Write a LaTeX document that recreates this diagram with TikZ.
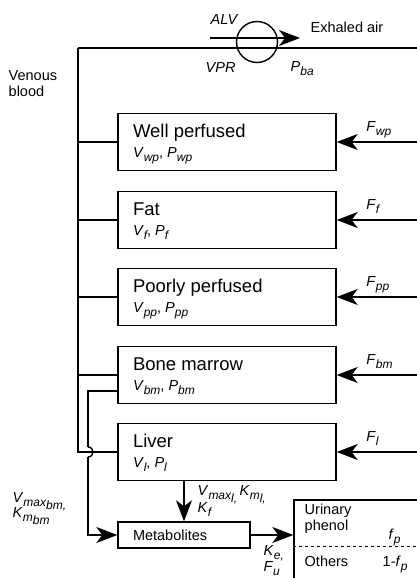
\documentclass[tikz,border=0pt]{standalone}
\usepackage{fontspec}
\setmainfont{Liberation Sans}
\usetikzlibrary{arrows.meta, positioning}
\newcommand{\sbs}[1]{\raisebox{-0.55ex}{\fontsize{12}{13}\selectfont\itshape #1}}

\begin{document}
\begin{tikzpicture}[x=1pt, y=-1pt, line width=1.4pt,
    organ/.style={draw, minimum width=218pt, minimum height=57.5pt, inner sep=0pt},
    title/.style={anchor=base west, inner sep=0pt, font=\fontsize{18.5}{22}\selectfont},
    lbl/.style={anchor=base west, inner sep=0pt, font=\fontsize{14.5}{16}\selectfont},
    flow/.style={-{Stealth[length=21pt, width=16pt, inset=6pt]}}]
    \clip (0,0) rectangle (417,578);

    % Lungs
    \node[draw, circle, minimum size=41pt, inner sep=0pt] (lung) at (257,42) {};
    \coordinate (vtop) at (78,48);
    \coordinate (atop) at (425,48);
    \coordinate (alvin) at (210,38);
    \draw (vtop) -- (atop);
    \node[lbl] (alv) at (210,25) {\textit{ALV}};
    \node[lbl] (vpr) at (205,72) {\textit{VPR}};
    \node[lbl] (pba) at (290,71) {\textit{P}\sbs{ba}};
    \node[lbl, anchor=west] (exhaled) at (310,27) {Exhaled air};
    \draw[flow, shorten >=10pt] (alvin) -- (exhaled.west |- alvin);
    \node[lbl, align=left, anchor=base west] (venous) at (8,96) {Venous\\blood};

    % Compartments
    \node[organ] (wp) at (227,142) {};
    \node[organ] (fat) at (227,220) {};
    \node[organ] (pp) at (227,297) {};
    \node[organ] (bm) at (227,375) {};
    \node[organ] (liver) at (227,452) {};

    \node[title] (wpname) at ([shift={(15,25)}]wp.north west) {Well perfused};
    \node[lbl] (wpvar) at ([shift={(15,45)}]wp.north west) {\textit{V}\sbs{wp}, \textit{P}\sbs{wp}};
    \node[title] (fatname) at ([shift={(15,25)}]fat.north west) {Fat};
    \node[lbl] (fatvar) at ([shift={(15,45)}]fat.north west) {\textit{V}\sbs{f}, \textit{P}\sbs{f}};
    \node[title] (ppname) at ([shift={(15,25)}]pp.north west) {Poorly perfused};
    \node[lbl] (ppvar) at ([shift={(15,45)}]pp.north west) {\textit{V}\sbs{pp}, \textit{P}\sbs{pp}};
    \node[title] (bmname) at ([shift={(15,25)}]bm.north west) {Bone marrow};
    \node[lbl] (bmvar) at ([shift={(15,45)}]bm.north west) {\textit{V}\sbs{bm}, \textit{P}\sbs{bm}};
    \node[title] (livername) at ([shift={(15,25)}]liver.north west) {Liver};
    \node[lbl] (livervar) at ([shift={(15,45)}]liver.north west) {\textit{V}\sbs{l}, \textit{P}\sbs{l}};

    % Venous return
    \coordinate (vliver) at (vtop |- liver.west);
    \draw (vtop) -- (vliver) -- (liver.west);
    \draw (vtop |- wp.west) -- (wp.west);
    \draw (vtop |- fat.west) -- (fat.west);
    \draw (vtop |- pp.west) -- (pp.west);
    \draw (vtop |- bm.west) -- (bm.west);

    % Arterial inflow
    \draw[flow] (wp.east -| atop) -- (wp.east);
    \draw[flow] (fat.east -| atop) -- (fat.east);
    \draw[flow] (pp.east -| atop) -- (pp.east);
    \draw[flow] (bm.east -| atop) -- (bm.east);
    \draw[flow] (liver.east -| atop) -- (liver.east);
    \node[lbl] (fwp) at ([shift={(29,-11)}]wp.east) {\textit{F}\sbs{wp}};
    \node[lbl] (ff) at ([shift={(29,-11)}]fat.east) {\textit{F}\sbs{f}};
    \node[lbl] (fpp) at ([shift={(29,-11)}]pp.east) {\textit{F}\sbs{pp}};
    \node[lbl] (fbm) at ([shift={(29,-11)}]bm.east) {\textit{F}\sbs{bm}};
    \node[lbl] (fl) at ([shift={(29,-11)}]liver.east) {\textit{F}\sbs{l}};

    % Metabolism
    \node[draw, minimum width=132pt, minimum height=26pt, inner sep=0pt] (met) at (184,535) {};
    \node[lbl, anchor=west] (metname) at ([xshift=15pt]met.west) {Metabolites};
    \draw[flow] (liver.south -| met.north) -- (met.north);
    \node[lbl] (livkin) at (197,495) {\textit{V}\sbs{max\sbs{l,}}\textit{\,K}\sbs{m\sbs{l,}}};
    \node[lbl] (livkf) at (197,512) {\textit{K}\sbs{f}};

    \coordinate (bmout) at ([yshift=-16pt]bm.west);
    \coordinate (hop) at (88,452);
    \draw (bmout) -- (bmout -| hop) -- ([yshift=5pt]hop);
    \draw ([yshift=5pt]hop)
        .. controls ([shift={(6.7,-5)}]hop) and ([shift={(6.7,5)}]hop) .. ([yshift=-5pt]hop);
    \draw[flow] ([yshift=-5pt]hop) -- (hop |- met.west) -- (met.west);
    \node[lbl] (bmkin) at (12,502) {\textit{V}\sbs{max\sbs{bm,}}};
    \node[lbl] (bmkm) at (12,517) {\textit{K}\sbs{m\sbs{bm}}};

    % Excretion
    \node[draw, minimum width=146pt, minimum height=100pt, inner sep=0pt] (urine) at (367,550) {};
    \coordinate (split) at (300,546);
    \draw[dashed, line width=0.9pt] (urine.west |- split) -- (urine.east |- split);
    \draw[flow] (met.east) -- (urine.west |- met.east);
    \node[lbl] (ke) at (263,555) {\textit{K}\sbs{e,}};
    \node[lbl] (fu) at (263,571) {\textit{F}\sbs{u}};
    \node[lbl, align=left] (urinary) at (304,530) {Urinary\\phenol};
    \node[lbl] (fp) at (388,539) {\textit{f}\sbs{p}};
    \node[lbl] (others) at (304,566) {Others};
    \node[lbl] (ofp) at (382,566) {1-\textit{f}\sbs{p}};
\end{tikzpicture}
\end{document}
